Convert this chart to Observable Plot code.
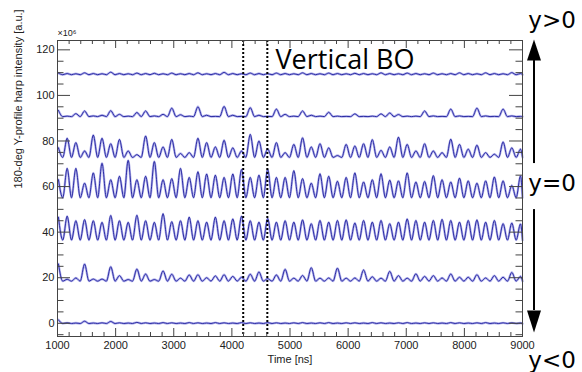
<!DOCTYPE html>
<html>
<head>
<meta charset="utf-8">
<script src="https://cdn.jsdelivr.net/npm/d3@7"></script>
<script src="https://cdn.jsdelivr.net/npm/@observablehq/plot@0.6"></script>
<style>
  html, body { margin: 0; padding: 0; background: #fff; }
  #chart svg { display: block; }
</style>
</head>
<body>
<div id="chart"></div>
<script>
// ---- Data ----
// Bunch peak times [ns] and the trough times between them
const peakTimes = [1016,1166,1316,1466,1616,1766,1916,2066,2216,2366,2516,2666,2816,2966,3116,3266,3416,3566,3716,3866,4016,4166,4316,4466,4616,4766,4916,5066,5216,5366,5516,5666,5816,5966,6116,6266,6416,6566,6716,6866,7016,7166,7316,7466,7616,7766,7916,8066,8216,8366,8516,8666,8816,8966];
const troughTimes = [1091,1241,1391,1541,1691,1841,1991,2141,2291,2441,2591,2741,2891,3041,3191,3341,3491,3641,3791,3941,4091,4241,4391,4541,4691,4841,4991,5141,5291,5441,5591,5741,5891,6041,6191,6341,6491,6641,6791,6941,7091,7241,7391,7541,7691,7841,7991,8141,8291,8441,8591,8741,8891,9000];

// Harp wire traces (x10^6), peak value at each bunch
const traceNames = ["w110", "w90", "w75", "w60", "w40", "w20", "w0"];
const troughLevels = [109.1, 90.7, 72.8, 55.1, 36.5, 18.5, -0.1];
const p110 = [109.8,109.6,109.5,109.9,109.6,109.5,110.2,109.6,109.5,109.8,109.6,109.7,109.5,109.8,109.5,109.6,109.9,109.5,109.6,110.1,109.6,109.5,109.8,109.6,109.5,109.8,109.6,109.5,109.9,109.6,109.5,109.8,109.6,109.5,109.7,109.6,109.5,109.9,109.6,109.5,109.8,109.6,109.5,109.8,109.5,109.6,109.9,109.6,109.5,109.9,109.6,109.5,110.0,109.6];
const p90 = [93.4,90.9,92.0,93.2,91.0,91.3,93.3,91.7,90.9,92.5,93.2,91.0,91.7,94.4,91.5,90.9,95.0,91.3,90.8,95.2,91.3,90.8,94.6,91.3,90.8,94.0,91.7,90.9,93.2,91.3,90.9,92.6,90.9,90.8,91.9,90.8,90.9,91.9,92.3,91.6,90.9,90.9,93.2,91.0,90.8,94.0,91.0,90.8,94.4,91.0,90.8,94.0,91.0,90.8];
const p75 = [77.0,81.2,79.3,75.6,82.6,81.2,78.8,80.7,75.6,74.0,82.2,79.3,77.4,80.7,74.5,74.9,81.2,79.3,77.4,80.3,77.0,75.6,82.9,80.0,76.4,79.3,74.9,78.5,81.4,77.4,78.8,77.0,73.6,78.5,77.8,78.8,80.6,75.9,77.4,81.7,78.5,75.6,78.8,75.6,74.9,80.8,78.5,76.4,78.2,74.9,74.2,79.6,77.0,76.4];
const p60 = [63.0,68.0,68.0,61.5,66.0,70.2,63.0,64.5,71.5,63.0,64.5,71.0,63.0,63.5,68.0,64.0,66.5,65.5,65.0,64.0,65.5,67.5,64.0,65.0,67.6,64.0,64.0,67.0,63.5,61.5,65.6,64.5,62.3,64.0,66.0,62.0,63.0,65.6,62.8,62.5,66.0,62.0,62.2,64.8,63.0,62.0,63.7,62.5,61.5,62.5,64.2,62.5,60.5,64.7];
const p40 = [46.5,47.0,45.0,45.5,45.0,44.3,47.3,45.0,44.3,47.4,45.0,44.3,48.1,44.6,45.0,46.6,45.0,44.4,46.6,45.0,45.8,47.0,45.0,44.4,46.0,44.4,45.0,44.4,45.4,43.7,45.1,44.4,45.1,45.4,44.0,45.1,44.4,45.1,43.7,44.4,45.8,45.1,44.4,45.1,45.6,45.1,44.4,45.1,45.4,44.4,45.1,43.7,44.0,43.6];
const p20 = [26.0,19.3,19.9,26.0,19.4,19.4,24.8,20.9,19.2,23.8,21.6,19.2,23.0,21.5,19.8,21.2,21.3,20.0,20.8,21.3,20.6,20.2,21.5,22.5,19.6,21.2,23.7,19.8,21.0,24.4,19.8,19.9,24.2,19.8,19.9,23.4,20.4,19.8,22.8,20.9,19.8,21.7,20.6,20.9,19.9,21.6,20.2,20.2,21.3,19.9,20.9,20.2,22.3,20.6];
const p0 = [1.5,0.2,0.1,0.9,0.1,0.2,0.8,0.2,0.1,0.4,0.2,0.1,0.3,0.2,0.1,0.3,0.2,0.1,0.3,0.2,0.1,0.3,0.2,0.1,0.3,0.2,0.1,0.2,0.3,0.1,0.2,0.3,0.1,0.2,0.2,0.1,0.3,0.2,0.1,0.2,0.3,0.1,0.2,0.2,0.1,0.3,0.2,0.1,0.2,0.3,0.1,0.2,0.2,0.1];
const traceValues = [p110, p90, p75, p60, p40, p20, p0];

// Beam-offset markers (vertical dotted lines) [ns]
const boTimes = [4195, 4610];

// Tick labels
const xTicks = [1000, 2000, 3000, 4000, 5000, 6000, 7000, 8000, 9000];
const yTicks = [0, 20, 40, 60, 80, 100, 120];

// Text
const xLabel = "Time [ns]";
const yLabel = "180-deg Y-profile harp intensity [a.u.]";
const yExponent = "×10⁶";
const title = "Vertical BO";
const sideLabels = ["y>0", "y=0", "y<0"];

// ---- Build table ----
const rows = [];
traceNames.forEach((name, i) => {
  const vals = traceValues[i];
  peakTimes.forEach((t, k) => {
    rows.push({trace: name, t, v: vals[k]});
    rows.push({trace: name, t: troughTimes[k], v: troughLevels[i]});
  });
});

const xMinor = d3.range(1000, 9001, 200).filter(d => d % 1000 !== 0);
const yMinor = d3.range(-5, 125, 5).filter(d => d % 20 !== 0);

const Y0 = -5.8, Y1 = 124.1, X0 = 1000, X1 = 9000;
const pxX = 8000 / 465;   // ns per pixel
const pxY = 129.9 / 296;  // units per pixel

const upHead = {draw(ctx) { ctx.moveTo(-7, 0); ctx.lineTo(7, 0); ctx.lineTo(0, -21); ctx.closePath(); }};
const downHead = {draw(ctx) { ctx.moveTo(-7, 0); ctx.lineTo(7, 0); ctx.lineTo(0, 22); ctx.closePath(); }};
const arrowX = 9198;

const chart = Plot.plot({
  width: 582,
  height: 372,
  marginLeft: 57,
  marginRight: 60,
  marginTop: 40,
  marginBottom: 36,
  style: {fontFamily: "'Liberation Sans', Arial, sans-serif", background: "#fff", color: "#222"},
  x: {domain: [X0, X1]},
  y: {domain: [Y0, Y1]},
  marks: [
    // traces
    Plot.line(rows, {x: "t", y: "v", z: "trace", stroke: "#b4b4ec", strokeWidth: 2.4, curve: "monotone-x"}),
    Plot.line(rows, {x: "t", y: "v", z: "trace", stroke: "#1e1e9c", strokeWidth: 0.9, curve: "monotone-x"}),
    // BO markers
    Plot.ruleX(boTimes, {stroke: "#000", strokeWidth: 2, strokeDasharray: "2,2"}),
    // frame
    Plot.frame({stroke: "#444", strokeWidth: 1}),
    // inside ticks: bottom & top
    Plot.ruleX(xTicks, {y1: Y0, y2: Y0 + 8 * pxY, stroke: "#444"}),
    Plot.ruleX(xMinor, {y1: Y0, y2: Y0 + 4 * pxY, stroke: "#444"}),
    Plot.ruleX(xTicks, {y1: Y1, y2: Y1 - 8 * pxY, stroke: "#444"}),
    Plot.ruleX(xMinor, {y1: Y1, y2: Y1 - 4 * pxY, stroke: "#444"}),
    // inside ticks: left & right
    Plot.ruleY(yTicks, {x1: X0, x2: X0 + 13 * pxX, stroke: "#444"}),
    Plot.ruleY(yMinor, {x1: X0, x2: X0 + 6.5 * pxX, stroke: "#444"}),
    Plot.ruleY(yTicks, {x1: X1, x2: X1 - 13 * pxX, stroke: "#444"}),
    Plot.ruleY(yMinor, {x1: X1, x2: X1 - 6.5 * pxX, stroke: "#444"}),
    // axes labels
    Plot.axisX(xTicks, {tickSize: 0, tickPadding: 5, fontSize: 11, label: null, tickFormat: d => String(d)}),
    Plot.axisY(yTicks, {tickSize: 0, tickPadding: 3, fontSize: 11, label: null, tickFormat: d => String(d)}),
    Plot.text([xLabel], {text: d => d, frameAnchor: "bottom", dy: 23, fontSize: 11, lineAnchor: "middle"}),
    Plot.text([yLabel], {text: d => d, frameAnchor: "left", dx: -39, rotate: -90, fontSize: 11, lineAnchor: "middle"}),
    Plot.text([yExponent], {text: d => d, frameAnchor: "top-left", dx: 0, dy: -7, fontSize: 9, textAnchor: "start", lineAnchor: "middle"}),
    // title annotation
    Plot.text([title], {text: d => d, x: 4750, y: 115.6, textAnchor: "start", lineAnchor: "middle", fontSize: 27, fontFamily: "'Open Sans', 'DejaVu Sans', sans-serif", fill: "#000"}),
    // side annotations
    Plot.text(sideLabels, {text: d => d, x: 9100, y: [132.9, 61.3, -16.6], textAnchor: "start", lineAnchor: "middle", fontSize: 23, fontFamily: "'DejaVu Sans', sans-serif", fill: "#000"}),
    Plot.ruleX([arrowX], {y1: 70.1, y2: 115.3, stroke: "#000", strokeWidth: 2}),
    Plot.ruleX([arrowX], {y1: 49.9, y2: 5.6, stroke: "#000", strokeWidth: 2}),
    Plot.dot([arrowX], {x: d => d, y: 115.3, symbol: upHead, fill: "#000", stroke: "none"}),
    Plot.dot([arrowX], {x: d => d, y: 5.6, symbol: downHead, fill: "#000", stroke: "none"})
  ]
});
document.getElementById("chart").appendChild(chart);
</script>
</body>
</html>
